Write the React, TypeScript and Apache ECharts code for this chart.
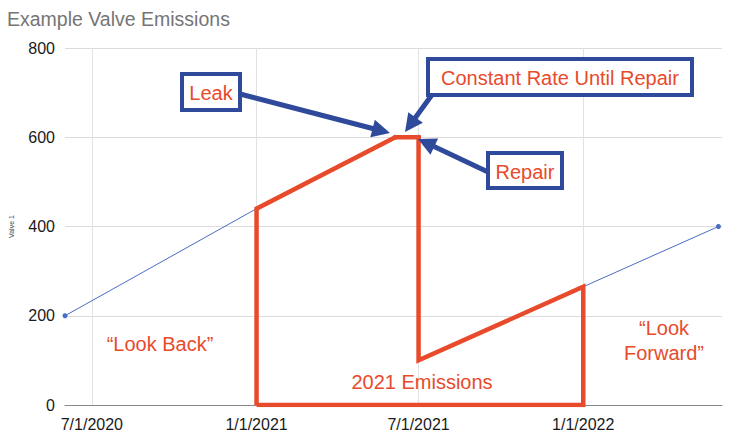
import React, { useEffect, useRef } from "react";
import * as echarts from "echarts";

const xTickLabels = ["7/1/2020", "1/1/2021", "7/1/2021", "1/1/2022"];
const axisStart = "6/1/2020";
const axisEnd = "6/5/2022";
const yTicks = [0, 200, 400, 600, 800];

// Valve 1 (blue) series
const valveDates = ["6/1/2020", "1/1/2021", "6/5/2021", "7/1/2021", "7/1/2021", "1/1/2022", "6/1/2022"];
const valveValues = [200, 440, 600, 600, 100, 265, 400];
const valveDotShown = [true, false, true, true, false, false, true];

// 2021 emissions outline (red)
const emisDates = ["1/1/2021", "1/1/2021", "6/5/2021", "7/1/2021", "7/1/2021", "1/1/2022", "1/1/2022", "1/1/2021"];
const emisValues = [0, 440, 600, 600, 100, 265, 0, 0];

const parse = (s: string) => {
  const [m, d, y] = s.split("/").map(Number);
  return Date.UTC(y, m - 1, d);
};
const fmt = (v: number) => {
  const d = new Date(v);
  return `${d.getUTCMonth() + 1}/${d.getUTCDate()}/${d.getUTCFullYear()}`;
};

const RED = "#e84a2c";
const BLUE = "#4a6cc4";
const NAVY = "#2f4a9b";
const FONT = '"Liberation Sans", Arial, sans-serif';

function arrow(x1: number, y1: number, x2: number, y2: number) {
  const dx = x2 - x1, dy = y2 - y1;
  const len = Math.sqrt(dx * dx + dy * dy);
  const ux = dx / len, uy = dy / len;
  const hl = 18, hw = 9;
  const bx = x2 - ux * hl, by = y2 - uy * hl;
  return [
    { type: "line", shape: { x1, y1, x2: bx + ux * 2, y2: by + uy * 2 }, style: { stroke: NAVY, lineWidth: 5 }, z: 100 },
    {
      type: "polygon",
      shape: { points: [[x2, y2], [bx - uy * hw, by + ux * hw], [bx + uy * hw, by - ux * hw]] },
      style: { fill: NAVY },
      z: 100,
    },
  ];
}

function box(x: number, y: number, w: number, h: number, text: string) {
  return [
    { type: "rect", shape: { x, y, width: w, height: h }, style: { fill: "#fff", stroke: NAVY, lineWidth: 4 }, z: 101 },
    {
      type: "text",
      style: { text, x: x + w / 2, y: y + h / 2 + 1, align: "center", verticalAlign: "middle", fill: RED, font: "20px " + FONT },
      z: 102,
    },
  ];
}

function redText(text: string, x: number, y: number) {
  return {
    type: "text",
    style: { text, x, y, align: "center", verticalAlign: "middle", fill: RED, font: "20px " + FONT, lineHeight: 25 },
    z: 102,
  };
}

export default function App() {
  const ref = useRef<HTMLDivElement>(null);
  useEffect(() => {
    const chart = echarts.init(ref.current!, null, { renderer: "svg" });
    const tickTs = xTickLabels.map(parse);
    chart.setOption({
      animation: false,
      textStyle: { fontFamily: FONT },
      title: {
        text: "Example Valve Emissions",
        left: 2,
        top: 4,
        textStyle: { color: "#757575", fontSize: 19.5, fontWeight: "normal", fontFamily: FONT },
      },
      grid: { left: 62, right: 8, top: 48, bottom: 33 },
      xAxis: {
        type: "value",
        min: parse(axisStart),
        max: parse(axisEnd),
        axisLine: { show: true, onZero: true, lineStyle: { color: "#888", width: 1 } },
        axisTick: { show: false },
        splitLine: { show: false },
        axisLabel: {
          customValues: tickTs,
          formatter: (v: number) => fmt(v),
          color: "#1a1a1a",
          fontSize: 16,
          fontFamily: FONT,
          margin: 11,
          hideOverlap: false,
        },
      },
      yAxis: {
        type: "value",
        min: 0,
        max: 800,
        interval: 200,
        name: "Valve 1",
        nameLocation: "middle",
        nameGap: 50,
        nameRotate: 90,
        nameTextStyle: { fontSize: 7, color: "#444", fontFamily: FONT },
        axisLine: { show: false },
        axisTick: { show: false },
        axisLabel: {
          color: "#1a1a1a",
          fontSize: 16,
          fontFamily: FONT,
          margin: 10,
          formatter: (v: number) => (yTicks.includes(v) ? String(v) : ""),
        },
        splitLine: { lineStyle: { color: "#dcdcdc", width: 1 } },
      },
      series: [
        {
          type: "line",
          name: "Valve 1",
          data: valveDates.map((d, i) => ({ value: [parse(d), valveValues[i]], symbolSize: valveDotShown[i] ? 5 : 0 })),
          symbol: "circle",
          showSymbol: true,
          lineStyle: { color: BLUE, width: 1 },
          itemStyle: { color: BLUE },
          z: 2,
          markLine: {
            silent: true,
            symbol: "none",
            label: { show: false },
            lineStyle: { color: "#e2e2e2", width: 1, type: "solid" },
            data: tickTs.map((t) => ({ xAxis: t })),
            z: 1,
          },
        },
        {
          type: "line",
          name: "2021 Emissions",
          data: emisDates.map((d, i) => [parse(d), emisValues[i]]),
          symbol: "none",
          lineStyle: { color: RED, width: 4.5, join: "miter" },
          z: 3,
        },
      ],
      graphic: [
        ...arrow(240, 94, 390, 133),
        ...arrow(434, 92, 405, 132),
        ...arrow(488, 172, 418, 139),
        ...box(182, 74, 58, 36, "Leak"),
        ...box(428, 59, 264, 36, "Constant Rate Until Repair"),
        ...box(488, 153, 74, 35, "Repair"),
        redText("\u201cLook Back\u201d", 160, 344),
        redText("\u201cLook\nForward\u201d", 664, 340),
        redText("2021 Emissions", 422, 382),
      ],
    });
    return () => chart.dispose();
  }, []);
  return <div ref={ref} style={{ position: "fixed", left: 0, top: 0, width: 730, height: 438, background: "#fff" }} />;
}
